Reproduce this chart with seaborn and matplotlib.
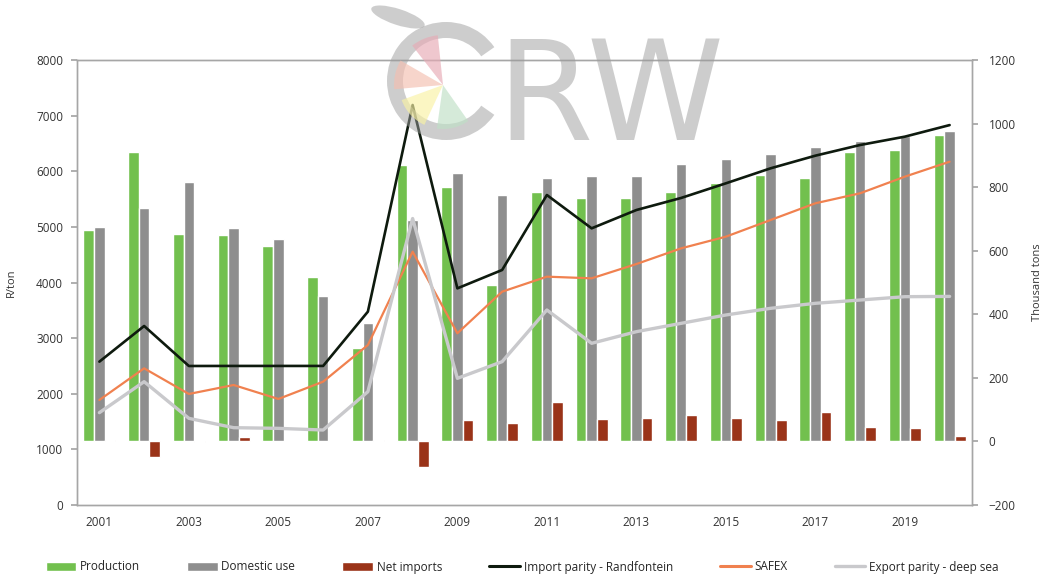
import numpy as np
import pandas as pd
import matplotlib
matplotlib.use("Agg")
import matplotlib.pyplot as plt
import seaborn as sns
from matplotlib.patches import Patch, Wedge, Ellipse
from matplotlib.lines import Line2D
from matplotlib import font_manager

years = list(range(2001, 2021))
production = [666, 911, 654, 649, 614, 518, 294, 871, 801, 492,
              784, 765, 765, 786, 812, 838, 828, 911, 917, 964]
domestic_use = [675, 733, 815, 673, 638, 458, 372, 697, 843, 775,
                830, 836, 835, 872, 888, 903, 925, 945, 962, 976]
net_imports = [3, -48, -3, 13, 2, 1, 3, -80, 67, 59,
               123, 69, 73, 83, 75, 67, 94, 46, 41, 17]
import_parity = [2577, 3218, 2499, 2500, 2500, 2500, 3476, 7191, 3895, 4225,
                 5573, 4974, 5303, 5520, 5783, 6053, 6280, 6472, 6622, 6830]
safex = [1888, 2457, 1996, 2157, 1906, 2217, 2876, 4554, 3087, 3835,
         4105, 4075, 4332, 4614, 4824, 5124, 5424, 5604, 5903, 6172]
export_parity = [1660, 2217, 1558, 1390, 1378, 1348, 2037, 5150, 2277, 2577,
                 3506, 2907, 3116, 3266, 3416, 3536, 3626, 3685, 3745, 3750]

bar_names = ["Production", "Domestic use", "Net imports"]
line_names = ["Import parity - Randfontein", "SAFEX", "Export parity - deep sea"]
bar_colors = ["#72c04e", "#8e8e8e", "#9a3318"]
line_colors = ["#0e1a0e", "#f0814f", "#c9c9cc"]
line_widths = [1.9, 1.6, 2.4]

sns.set_theme(style="white")
plt.rcParams["font.family"] = ["Open Sans", "DejaVu Sans"]

# pick a narrow family for the watermark if one is installed
installed = {f.name for f in font_manager.fontManager.ttflist}
wm_family = "DejaVu Sans"
wm_size = 100
for cand in ["Noto Sans ExtraCondensed", "Noto Sans Condensed", "Liberation Sans Narrow"]:
    if cand in installed:
        wm_family = cand
        wm_size = 120
        break

bars = pd.DataFrame({
    "year": [str(y) for y in years] * 3,
    "series": sum([[n] * len(years) for n in bar_names], []),
    "value": production + domestic_use + net_imports,
})

fig = plt.figure(figsize=(10.44, 5.77), dpi=100)
ax = fig.add_axes([77 / 1044, 1 - 505 / 577, (972 - 77) / 1044, (505 - 60) / 577])
sns.barplot(data=bars, x="year", y="value", hue="series", hue_order=bar_names,
            palette=bar_colors, saturation=1, width=0.72, ax=ax, legend=False,
            errorbar=None)
ax.set_xlabel("")
ax.set_xlim(-0.5, len(years) - 0.5)

ax2 = ax.twinx()
idx = np.arange(len(years))
for vals, c, lw in zip([import_parity, safex, export_parity], line_colors, line_widths):
    sns.lineplot(x=idx, y=vals, color=c, linewidth=lw, ax=ax2)
ax2.set_ylim(0, 8000)
ax2.set_yticks(range(0, 8001, 1000))
ax2.set_xlim(-0.5, len(years) - 0.5)

ax.set_ylim(-200, 1200)
ax.set_yticks(range(-200, 1201, 200))
ax.yaxis.tick_right()
ax.yaxis.set_label_position("right")
ax.set_ylabel("Thousand tons", fontsize=8, color="#333333", labelpad=12)
ax2.yaxis.tick_left()
ax2.yaxis.set_label_position("left")
ax2.set_ylabel("R/ton", fontsize=8, color="#333333", labelpad=14)

ax.set_xticks(idx[::2])
ax.set_xticklabels([str(y) for y in years[::2]])
ax.set_xticks(np.arange(-0.5, len(years), 1), minor=True)

for a in (ax, ax2):
    for s in a.spines.values():
        s.set_color("#a6a6a6")
        s.set_linewidth(1.0)
    a.grid(False)
ax.tick_params(axis="x", which="minor", length=4, color="#a6a6a6", direction="out")
ax.tick_params(axis="x", which="major", length=0, pad=8, labelsize=8.5, colors="#333333")
ax.tick_params(axis="y", length=4, color="#a6a6a6", direction="out", labelsize=8.5,
               labelcolor="#333333", pad=8)
ax2.tick_params(axis="y", length=4, color="#a6a6a6", direction="out", labelsize=8.5,
                labelcolor="#333333", pad=6)

handles = [Patch(facecolor=c, label=n) for c, n in zip(bar_colors, bar_names)]
handles += [Line2D([0], [0], color=c, lw=max(lw, 2.2), label=n)
            for c, n, lw in zip(line_colors, line_names, line_widths)]
fig.legend(handles=handles, loc="center", bbox_to_anchor=(0.50, 1 - 567 / 577),
           ncol=6, frameon=False, fontsize=8.5, handlelength=2.6,
           handleheight=0.8, columnspacing=4.0, handletextpad=0.3)

# watermark logo overlay (pixel coordinates, y up)
ov = fig.add_axes([0, 0, 1, 1], zorder=10)
ov.set_xlim(0, 1044)
ov.set_ylim(0, 577)
ov.axis("off")
ov.patch.set_alpha(0)
wm = "#9c9c9c"
ov.add_patch(Wedge((446, 496), 59, 35, 325, width=16, color=wm, alpha=0.5, lw=0))
ov.add_patch(Ellipse((398, 560), 56, 16, angle=-18, color=wm, alpha=0.5, lw=0))
for (t1, t2, r, col) in [(96, 128, 50, "#e7aab5"), (150, 185, 49, "#f4bfb0"),
                         (200, 245, 44, "#f9f2a4"), (262, 305, 44, "#bfe0c6")]:
    ov.add_patch(Wedge((443, 492), r, t1, t2, color=col, alpha=0.65, lw=0))
ov.text(496, 437, "RW", fontsize=wm_size, color=wm, alpha=0.5, ha="left",
        va="baseline", family=[wm_family])

fig.savefig("out.png", dpi=100)
